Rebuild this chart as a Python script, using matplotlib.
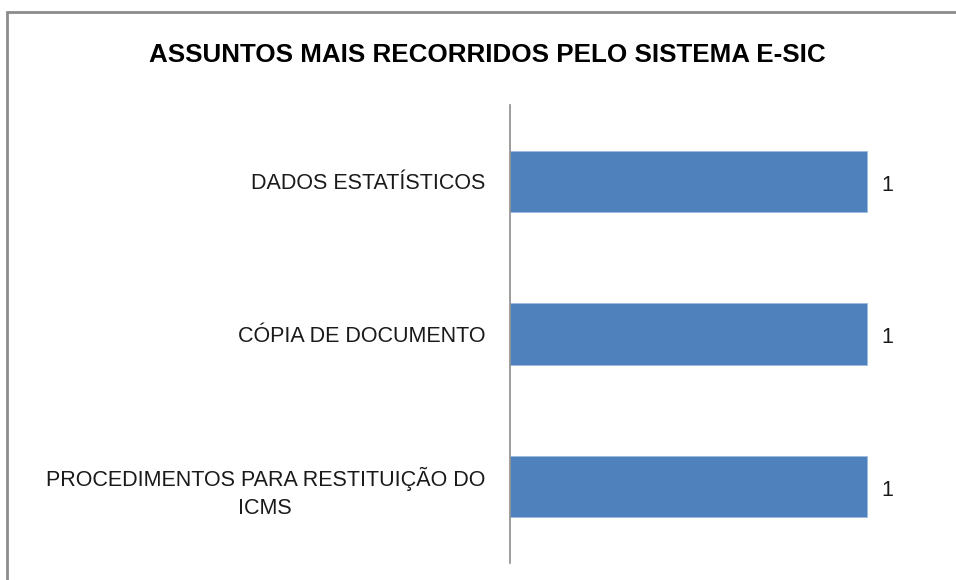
import matplotlib.pyplot as plt
from matplotlib.patches import Rectangle

# chart data
categories = ['PROCEDIMENTOS PARA RESTITUIÇÃO DO\nICMS', 'CÓPIA DE DOCUMENTO', 'DADOS ESTATÍSTICOS']
values = [1, 1, 1]
title = 'ASSUNTOS MAIS RECORRIDOS PELO SISTEMA E-SIC'

W, H = 956, 580
plt.rcParams['font.family'] = ['Liberation Sans', 'DejaVu Sans']

fig = plt.figure(figsize=(W / 100, H / 100), dpi=100)

# outer chart border (runs off the right and bottom edges)
fig.patches.append(Rectangle((7 / W, -0.05), 1.0, 1 - 12 / H + 0.05,
                             transform=fig.transFigure, fill=False,
                             edgecolor='#8c8c8c', linewidth=2))

ax = fig.add_axes([510 / W, 1 - 563 / H, (938 - 510) / W, (563 - 105) / H])
ypos = range(len(categories))
bars = ax.barh(ypos, values, height=0.4, color='#4f81bd', edgecolor='#9bbbe0', linewidth=0.6)
ax.set_xlim(0, 1.2)
ax.set_ylim(-0.5, len(categories) - 0.5)

ax.set_yticks(list(ypos))
ax.set_yticklabels(categories, fontsize=15.5, color='#1a1a1a',
                   multialignment='center', linespacing=1.45)
ax.tick_params(axis='y', length=0, pad=18)
ax.set_xticks([])

for s in ['top', 'right', 'bottom']:
    ax.spines[s].set_visible(False)
ax.spines['left'].set_color('#8c8c8c')
ax.spines['left'].set_linewidth(1.2)

for b, v in zip(bars, values):
    ax.text(b.get_width() + 0.04, b.get_y() + b.get_height() / 2 - 0.025, str(v),
            fontsize=15.5, color='#1a1a1a', va='center', ha='left')

fig.text(487 / W, 1 - 55 / H, title, fontsize=18.7, fontweight='bold',
         ha='center', va='center', color='black')

fig.savefig('out.png', dpi=100)
